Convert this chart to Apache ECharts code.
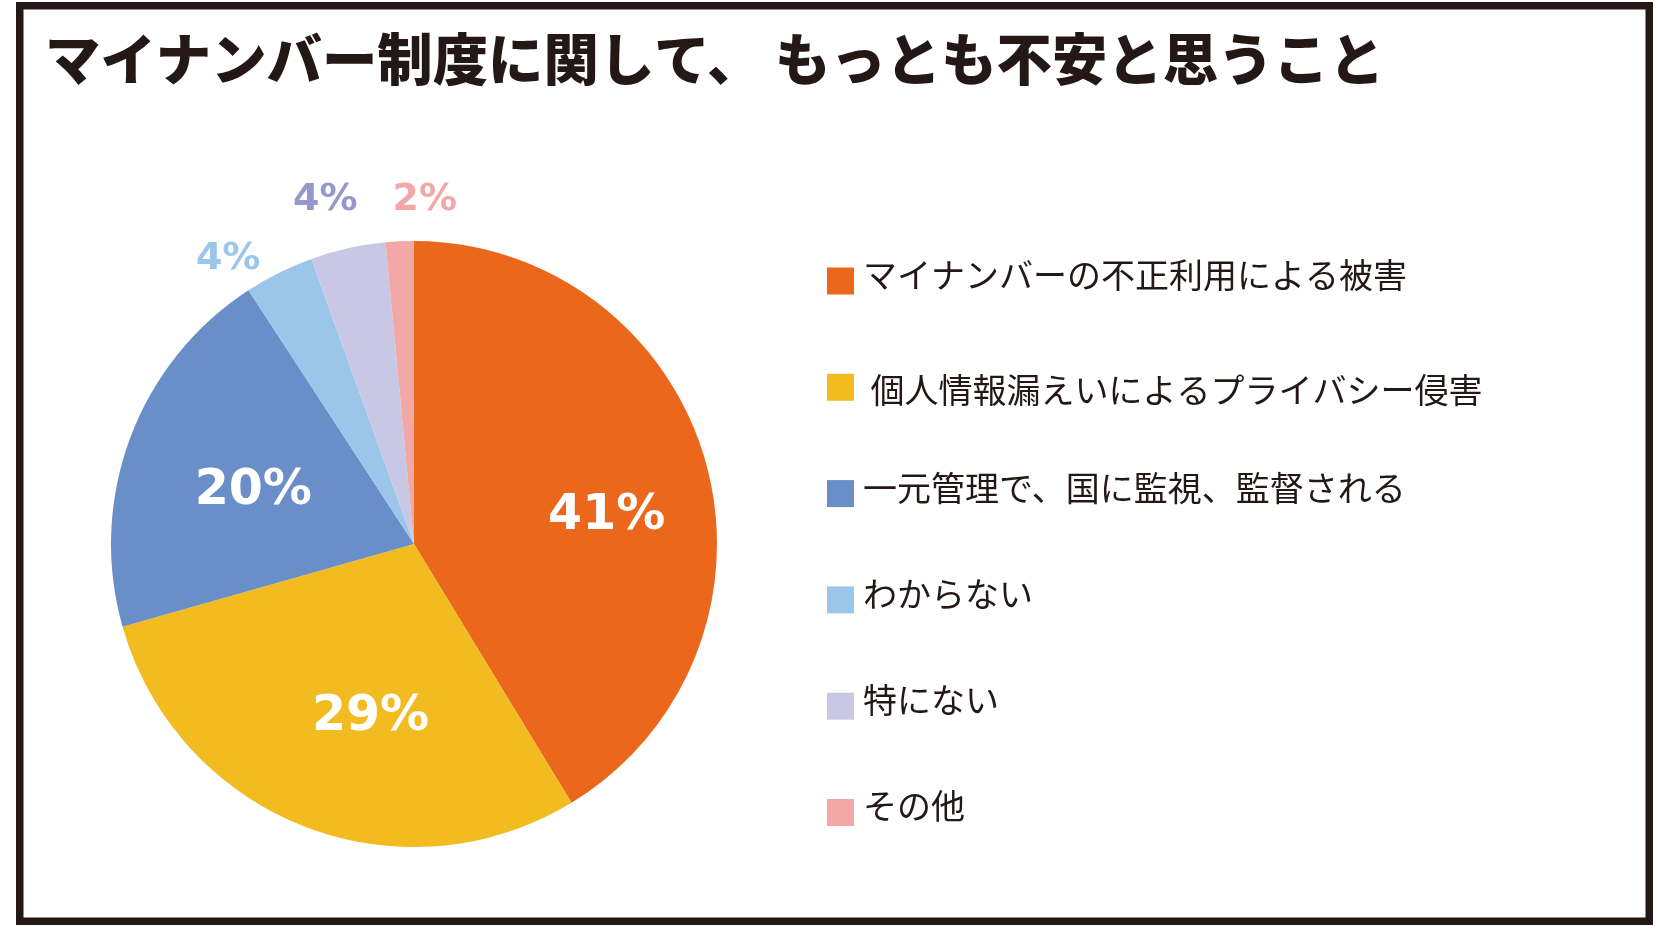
<!DOCTYPE html>
<html>
<head>
<meta charset="utf-8">
<script src="https://cdn.jsdelivr.net/npm/echarts@6/dist/echarts.min.js"></script>
<style>
html,body{margin:0;padding:0;background:#fff;}
#chart{width:1662px;height:930px;}
</style>
</head>
<body>
<div id="chart"></div>
<script>
const titleText = 'マイナンバー制度に関して、 もっとも不安と思うこと';
const categories = [
  'マイナンバーの不正利用による被害',
  ' 個人情報漏えいによるプライバシー侵害',
  '一元管理で、国に監視、監督される',
  'わからない',
  '特にない',
  'その他'
];
const values = [41.3, 29.3, 20.2, 3.7, 4.0, 1.5];
const sliceColors = ['#EA671B', '#F2BB20', '#6A8EC7', '#9BC6EA', '#C9C8E4', '#F1A8A7'];
const labelColors = ['#ffffff', '#ffffff', '#ffffff', '#9BC6EA', '#9698CA', '#F1A8A7'];
const labelSizes = [49, 49, 49, 38, 38, 38];
// label nudges from the default inside position
const labelShift = [[44, 14], [13, 29.5], [-16, 1], [-117, -147], [-55, -193], [18, -190]];
// legend text style key per item (t: text sits a bit above the marker, u: a bit below)
const legendTextKey = ['t', 'u', 't', 't', 't', 't'];

const legendFont = '"Noto Sans CJK JP"';
const chart = echarts.init(document.getElementById('chart'), null, {renderer: 'canvas'});
chart.setOption({
  backgroundColor: '#ffffff',
  animation: false,
  title: {
    text: titleText,
    left: 40,
    top: 26,
    textStyle: {
      fontFamily: '"Noto Sans CJK JP"',
      fontSize: 55.4,
      fontWeight: 900,
      color: '#231815'
    }
  },
  graphic: [{
    type: 'rect',
    shape: {x: 19.75, y: 5.75, width: 1629.5, height: 915.5},
    style: {fill: 'none', stroke: '#231815', lineWidth: 7.5},
    silent: true
  }],
  legend: {
    orient: 'vertical',
    left: 822,
    top: 253,
    itemWidth: 27,
    itemHeight: 27,
    itemGap: 60.3,
    icon: 'rect',
    formatter: name => '{' + legendTextKey[categories.indexOf(name)] + '|' + name + '}',
    textStyle: {
      fontFamily: legendFont,
      fontSize: 34,
      color: '#231815',
      rich: {
        t: {fontFamily: legendFont, fontSize: 34, lineHeight: 34, color: '#231815', padding: [0, 0, 12, 4]},
        u: {fontFamily: legendFont, fontSize: 34, lineHeight: 34, color: '#231815', padding: [9, 0, 3, 4]}
      }
    },
    data: categories
  },
  series: [{
    type: 'pie',
    center: [414, 544],
    radius: [0, 303],
    startAngle: 90,
    clockwise: true,
    avoidLabelOverlap: false,
    labelLine: {show: false},
    data: categories.map((c, i) => ({
      name: c,
      value: values[i],
      itemStyle: {color: sliceColors[i]},
      label: {color: labelColors[i], fontSize: labelSizes[i]}
    })),
    label: {
      show: true,
      position: 'inside',
      formatter: p => Math.round(p.value) + '%',
      fontFamily: '"DejaVu Sans"',
      fontWeight: 'bold'
    },
    labelLayout: p => ({dx: labelShift[p.dataIndex][0], dy: labelShift[p.dataIndex][1]}),
    emphasis: {disabled: true}
  }]
});
</script>
</body>
</html>
